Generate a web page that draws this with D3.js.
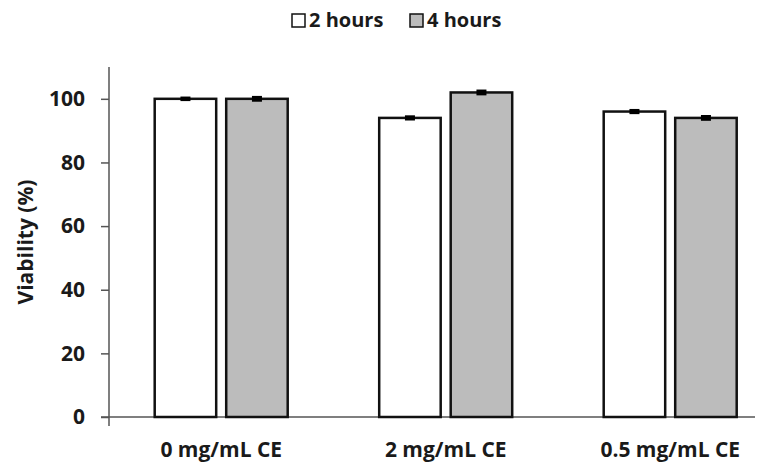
<!DOCTYPE html>
<html>
<head>
<meta charset="utf-8">
<script src="https://cdn.jsdelivr.net/npm/d3@7"></script>
<style>
    body { margin: 0; background: #fff; }
    .chart-area { width: 773px; height: 463px; }
    text { font-family: "Open Sans", sans-serif; font-weight: bold; fill: #1a1a1a; }
</style>
</head>
<body>
<div class="chart-area"></div>
<script>

// chart data
let categories = ["0 mg/mL CE", "2 mg/mL CE", "0.5 mg/mL CE"];
let seriesNames = ["2 hours", "4 hours"];
let values2h = [100, 94, 96];
let values4h = [100, 102, 94];
let errors2h = [0.4, 0.5, 0.5];
let errors4h = [0.6, 0.6, 0.6];
let yTicks = [0, 20, 40, 60, 80, 100];

class BarChart {

    constructor(parentElement) {
        this.parentElement = parentElement;
        this.displayData = [];

        this.initVis()
    }

    initVis() {
        let vis = this;
        vis.margin = {top: 67, right: 0, bottom: 46, left: 109};
        vis.width = 773 - vis.margin.left - vis.margin.right;
        vis.height = 463 - vis.margin.top - vis.margin.bottom;

        vis.svg = d3.select("." + vis.parentElement).append("svg")
            .attr("width", 773)
            .attr("height", 463)
            .append("g")
            .attr('transform', `translate (${vis.margin.left}, ${vis.margin.top})`);

        vis.color = d3.scaleOrdinal()
            .domain(seriesNames)
            .range(["#ffffff", "#bcbcbc"]);

        vis.wrangleData();
    }

    wrangleData() {
        let vis = this;
        vis.displayData = [];

        categories.forEach(function (c, i) {
            vis.displayData.push({
                category: c,
                bars: [
                    {series: seriesNames[0], value: values2h[i], err: errors2h[i]},
                    {series: seriesNames[1], value: values4h[i], err: errors4h[i]}
                ]
            })
        });

        vis.updateVis();
    }

    updateVis() {
        let vis = this;

        // outer scale for categories, the plot runs a bit past the drawn axis line
        vis.x0 = d3.scaleBand()
            .domain(categories)
            .range([0, 673.5]);

        vis.x1 = d3.scaleBand()
            .domain(seriesNames)
            .range([45.7, 178.7])
            .paddingInner(0.14);

        vis.y = d3.scaleLinear()
            .domain([0, 110])
            .range([vis.height, 0]);

        // y axis
        let yAxis = vis.svg.append("g")
            .attr("class", "axis y-axis")
            .call(d3.axisLeft(vis.y).tickValues(yTicks).tickSize(8).tickPadding(16).tickSizeOuter(0));
        yAxis.select(".domain")
            .attr("stroke", "#555")
            .attr("stroke-width", 1.5)
            .attr("d", `M0,0V${vis.height + 9}`);
        yAxis.selectAll(".tick line").attr("stroke", "#555").attr("stroke-width", 1.5);
        yAxis.selectAll(".tick text").style("font-size", "21px");

        // x axis line (drawn only to 755px like the original)
        vis.svg.append("line")
            .attr("x1", -8)
            .attr("x2", 755 - vis.margin.left)
            .attr("y1", vis.y(0))
            .attr("y2", vis.y(0))
            .attr("stroke", "#555")
            .attr("stroke-width", 1.5);

        // x labels
        let xAxis = vis.svg.append("g")
            .attr("class", "axis x-axis")
            .attr("transform", `translate(0, ${vis.height})`)
            .call(d3.axisBottom(vis.x0).tickSize(0).tickPadding(25));
        xAxis.select(".domain").remove();
        xAxis.selectAll(".tick text").style("font-size", "21px");

        // bars
        let groups = vis.svg.selectAll(".group")
            .data(vis.displayData).enter()
            .append("g")
            .attr("class", "group")
            .attr("transform", d => "translate(" + vis.x0(d.category) + ",0)");

        groups.selectAll(".bar")
            .data(d => d.bars).enter()
            .append("rect")
            .attr("class", "bar")
            .attr("x", d => vis.x1(d.series))
            .attr("y", d => vis.y(d.value))
            .attr("width", vis.x1.bandwidth())
            .attr("height", d => vis.y(0) - vis.y(d.value))
            .attr("fill", d => vis.color(d.series))
            .attr("stroke", "#111")
            .attr("stroke-width", 2.5);

        // error bars
        groups.selectAll(".err")
            .data(d => d.bars).enter()
            .append("rect")
            .attr("class", "err")
            .attr("x", d => vis.x1(d.series) + vis.x1.bandwidth() / 2 - 5)
            .attr("y", d => vis.y(d.value + d.err) - 1)
            .attr("width", 10)
            .attr("height", d => vis.y(d.value - d.err) - vis.y(d.value + d.err) + 2)
            .attr("fill", "#000");

        // y title
        vis.svg.append("text")
            .attr("transform", `translate(${26 - vis.margin.left}, ${vis.height / 2}) rotate(-90)`)
            .attr("text-anchor", "middle")
            .attr("dy", "0.35em")
            .style("font-size", "21px")
            .text("Viability (%)");

        // legend
        let legendX = [292, 410];
        let legend = d3.select("." + vis.parentElement).select("svg").append("g")
            .attr("class", "legend");
        let items = legend.selectAll(".item")
            .data(seriesNames).enter()
            .append("g")
            .attr("class", "item")
            .attr("transform", (d, i) => "translate(" + legendX[i] + ",14)");
        items.append("rect")
            .attr("width", 13)
            .attr("height", 13)
            .attr("fill", d => vis.color(d))
            .attr("stroke", "#111")
            .attr("stroke-width", 1.5);
        items.append("text")
            .attr("x", 17)
            .attr("y", 6)
            .attr("dy", "0.35em")
            .style("font-size", "20px")
            .text(d => d);
    }
}

let chart = new BarChart("chart-area");

</script>
</body>
</html>
